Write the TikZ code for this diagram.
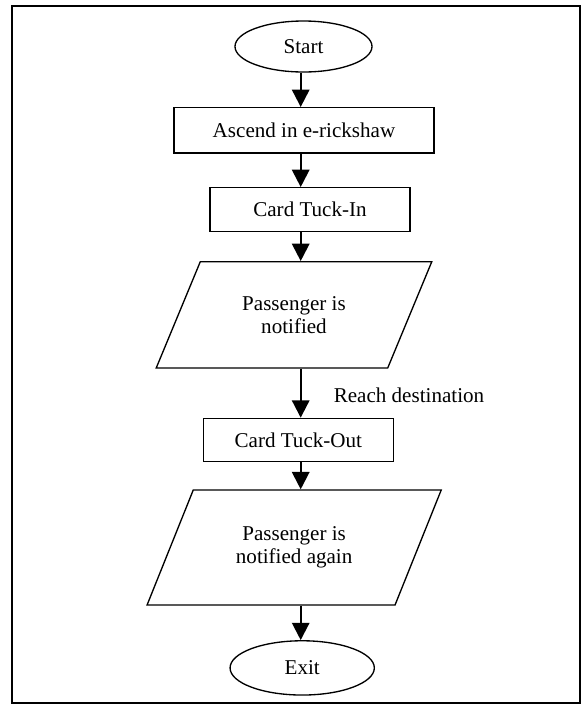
\documentclass[tikz,border=0pt]{standalone}
\usepackage{fontspec}
\setmainfont{Liberation Serif}
\usetikzlibrary{shapes.geometric,arrows.meta}

\tikzset{every picture/.style={line width=0.75pt}}

\begin{document}
\begin{tikzpicture}[x=0.75pt,y=0.75pt,yscale=-1,xscale=1,
  txt/.style={font=\fontsize{15.8}{17.5}\selectfont,align=center},
  terminal/.style={txt,draw,line width=1pt,ellipse,inner sep=0pt},
  process/.style={txt,draw,line width=1pt,rectangle,inner sep=0pt},
  io/.style={txt,draw,line width=1pt,trapezium,trapezium stretches=true,inner sep=0pt},
  flow/.style={line width=1.6pt,-{Triangle[length=13pt,width=13pt]}}]
\useasboundingbox (0,0) rectangle (581,704);

%Frame
\draw [line width=1.1pt]  (12,6) -- (580,6) -- (580,703) -- (12,703) -- cycle ;
\coordinate (spine) at (300.7,0);

% Text Node
\node [terminal,minimum width=102.75pt,minimum height=38.25pt] (start) at (303.5,46.5) {Start};
% Text Node
\node [process,minimum width=195pt,minimum height=34pt] (ascend) at (304,130.3) {Ascend in e-rickshaw};
% Text Node
\node [process,minimum width=150pt,minimum height=33pt] (tuckin) at (310,209.7) {Card Tuck-In};
% Text Node
\node [io,trapezium left angle=57,trapezium right angle=123,minimum width=207pt,minimum height=79.7pt] (notified) at (294,314.85) {Passenger is\\notified};
% Text Node
\node [process,minimum width=142.5pt,minimum height=32.5pt] (tuckout) at (298.3,440) {Card Tuck-Out};
% Text Node
\node [io,trapezium left angle=57.5,trapezium right angle=122.5,minimum width=221pt,minimum height=86.25pt] (again) at (294.15,547.5) {Passenger is\\notified again};
% Text Node
\node [terminal,minimum width=108.2pt,minimum height=40.7pt] (exit) at (302.2,667.9) {Exit};
% Text Node
\node [txt,anchor=west,inner sep=0pt] (reach) at (333.3,395) {Reach destination};

%Straight Lines
\draw [flow] (start.south -| spine) -- (ascend.north -| spine);
\draw [flow] (ascend.south -| spine) -- (tuckin.north -| spine);
\draw [flow] (tuckin.south -| spine) -- (notified.north -| spine);
\draw [flow] (notified.south -| spine) -- (tuckout.north -| spine);
\draw [flow] (tuckout.south -| spine) -- (again.north -| spine);
\draw [flow] (again.south -| spine) -- (exit.north -| spine);

\end{tikzpicture}
\end{document}
